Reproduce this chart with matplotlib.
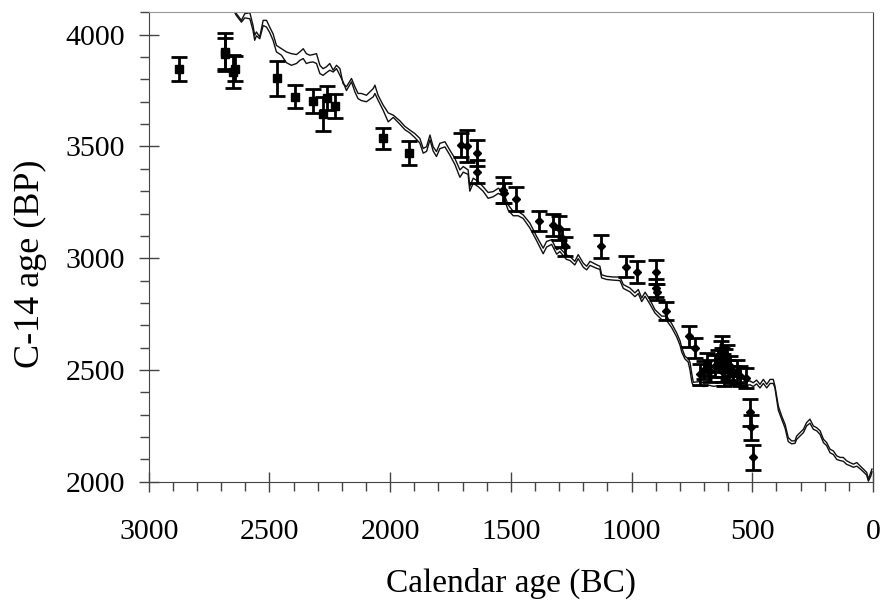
import matplotlib
matplotlib.use("Agg")
import matplotlib.pyplot as plt
from matplotlib.ticker import MultipleLocator

plt.rcParams['font.family'] = ['Liberation Serif', 'DejaVu Serif']

# calibration curve, upper and lower bound (cal BC, C-14 BP)
cal_year = [2650, 2637, 2616, 2602, 2581, 2568, 2561, 2554, 2540, 2526, 2512, 2499,
            2485, 2471, 2450, 2430, 2409, 2388, 2374, 2360, 2347, 2333, 2319, 2305,
            2291, 2278, 2264, 2250, 2236, 2222, 2208, 2195, 2181, 2160, 2146, 2133,
            2119, 2098, 2070, 2063, 2050, 2029, 2008, 1987, 1960, 1939, 1918, 1898,
            1877, 1863, 1849, 1835, 1822, 1808, 1794, 1773, 1753, 1732, 1711, 1697,
            1677, 1670, 1656, 1635, 1615, 1594, 1573, 1552, 1532, 1511, 1490, 1470,
            1449, 1421, 1393, 1366, 1352, 1331, 1310, 1297, 1270, 1255, 1235, 1221,
            1200, 1186, 1172, 1145, 1131, 1124, 1103, 1076, 1048, 1034, 1007, 986,
            972, 958, 944, 924, 903, 875, 855, 834, 813, 799, 792, 779, 765, 758,
            750, 744, 720, 700, 680, 660, 640, 620, 600, 580, 560, 540, 520, 509,
            496, 482, 468, 454, 440, 426, 413, 406, 399, 392, 378, 364, 351, 337,
            323, 316, 302, 288, 275, 261, 247, 233, 219, 205, 192, 178, 164, 150,
            136, 123, 109, 95, 81, 67, 53, 40, 26, 19, 9, 4]
curve_upper = [4130, 4094, 4064, 4094, 4098, 4041, 3997, 4012, 3990, 4064, 4064, 4034,
               4004, 3952, 3937, 3923, 3915, 3911, 3923, 3937, 3915, 3908, 3911, 3915,
               3863, 3848, 3856, 3871, 3841, 3863, 3848, 3781, 3767, 3804, 3767, 3737,
               3737, 3729, 3759, 3774, 3729, 3685, 3650, 3640, 3615, 3590, 3573, 3558,
               3536, 3491, 3499, 3551, 3499, 3477, 3514, 3521, 3484, 3447, 3395, 3410,
               3395, 3320, 3358, 3343, 3320, 3294, 3298, 3313, 3298, 3239, 3209, 3209,
               3194, 3157, 3097, 3045, 3075, 3083, 3038, 3045, 3015, 3008, 2986, 3016,
               2978, 2964, 2986, 2971, 2964, 2926, 2919, 2916, 2916, 2882, 2867, 2845,
               2860, 2822, 2848, 2815, 2770, 2741, 2741, 2708, 2666, 2630, 2600, 2562,
               2550, 2535, 2480, 2445, 2448, 2443, 2450, 2445, 2448, 2445, 2446, 2448,
               2444, 2447, 2450, 2451, 2443, 2455, 2436, 2458, 2436, 2458, 2458, 2428,
               2384, 2339, 2294, 2257, 2198, 2183, 2183, 2205, 2220, 2235, 2265, 2280,
               2250, 2242, 2228, 2190, 2176, 2146, 2138, 2116, 2109, 2109, 2094, 2086,
               2079, 2086, 2071, 2057, 2042, 2012, 2042, 2057]
curve_lower = [4110, 4086, 4056, 4075, 4071, 4019, 3975, 3995, 3982, 4041, 4034, 4010,
               3975, 3923, 3908, 3875, 3863, 3871, 3885, 3893, 3871, 3876, 3878, 3871,
               3826, 3818, 3830, 3841, 3833, 3848, 3818, 3789, 3750, 3789, 3744, 3714,
               3705, 3700, 3722, 3737, 3707, 3662, 3610, 3630, 3600, 3575, 3560, 3540,
               3515, 3470, 3478, 3530, 3480, 3455, 3490, 3498, 3462, 3420, 3362, 3385,
               3375, 3300, 3335, 3320, 3300, 3268, 3275, 3290, 3278, 3215, 3190, 3190,
               3178, 3135, 3078, 3020, 3050, 3062, 3018, 3030, 2995, 2990, 2970, 2998,
               2960, 2948, 2968, 2955, 2950, 2912, 2905, 2902, 2900, 2865, 2850, 2828,
               2842, 2806, 2830, 2795, 2755, 2725, 2722, 2690, 2648, 2610, 2580, 2550,
               2535, 2500, 2445, 2428, 2430, 2426, 2432, 2427, 2430, 2428, 2428, 2430,
               2427, 2430, 2432, 2434, 2426, 2438, 2420, 2440, 2420, 2440, 2440, 2420,
               2370, 2320, 2280, 2240, 2180, 2170, 2172, 2190, 2205, 2220, 2250, 2262,
               2235, 2228, 2212, 2175, 2162, 2130, 2122, 2100, 2095, 2092, 2078, 2072,
               2065, 2070, 2058, 2045, 2030, 2003, 2025, 2045]

# dated samples, first group (squares)
sq_year = [2876, 2686, 2684, 2652, 2644, 2468, 2394, 2320, 2278, 2262, 2228, 2029, 1921]
sq_bp = [3848, 3922, 3915, 3835, 3848, 3804, 3723, 3703, 3645, 3715, 3679, 3536, 3472]
sq_err = [54, 85, 70, 72, 55, 77, 52, 53, 74, 54, 54, 48, 53]

# second group (diamonds)
di_year = [1707, 1681, 1640, 1640, 1534, 1530, 1477, 1384, 1324, 1300, 1290, 1276,
           1127, 1023, 976, 900, 900, 896, 859, 760, 737, 717, 700, 689, 675, 654,
           640, 630, 627, 625, 622, 620, 617, 612, 606, 600, 592, 580, 565, 551, 524,
           509, 505, 498]
di_bp = [3506, 3502, 3472, 3387, 3306, 3292, 3265, 3167, 3149, 3135, 3090, 3053,
         3053, 2963, 2937, 2938, 2867, 2850, 2763, 2651, 2599, 2480, 2500, 2525, 2495,
         2517, 2540, 2575, 2600, 2555, 2520, 2490, 2470, 2545, 2562, 2500, 2517, 2480,
         2495, 2473, 2466, 2310, 2243, 2109]
di_err = [54, 73, 58, 52, 57, 45, 54, 45, 50, 52, 40, 42, 51, 48, 50, 54, 40, 35,
          41, 47, 45, 45, 40, 52, 50, 48, 50, 55, 50, 45, 50, 45, 40, 50, 50, 45, 45,
          40, 52, 45, 45, 61, 58, 56]

fig, ax = plt.subplots(figsize=(8.8, 6), dpi=100)
fig.subplots_adjust(left=0.169, right=0.992, top=0.9795, bottom=0.197)

ax.plot(cal_year, curve_upper, color='#111111', linewidth=1.0)
ax.plot(cal_year, curve_lower, color='#111111', linewidth=1.0)

ax.errorbar(sq_year, sq_bp, yerr=sq_err, fmt='s', color='black', markersize=5.5,
            elinewidth=2, capsize=5.5, capthick=2)
ax.errorbar(di_year, di_bp, yerr=di_err, fmt='D', color='black', markersize=4.5,
            elinewidth=2, capsize=5.5, capthick=2)

ax.set_xlim(3000, 0)
ax.set_ylim(2000, 4100)
ax.xaxis.set_major_locator(MultipleLocator(500))
ax.xaxis.set_minor_locator(MultipleLocator(100))
ax.yaxis.set_major_locator(MultipleLocator(500))
ax.yaxis.set_minor_locator(MultipleLocator(100))

ax.tick_params(which='major', direction='inout', length=14, width=1, color='#444444',
               labelsize=21.5)
ax.tick_params(which='minor', direction='out', length=6.5, width=1, color='#444444')
ax.tick_params(axis='x', which='major', pad=20)
ax.tick_params(axis='y', which='major', pad=10)

for side in ['left', 'bottom', 'right']:
    ax.spines[side].set_color('#444444')
ax.spines['top'].set_color('#999999')

ax.set_xlabel('Calendar age (BC)', fontsize=24)
ax.set_ylabel('C-14 age (BP)', fontsize=26)
ax.xaxis.set_label_coords(0.5, -0.183)
ax.yaxis.set_label_coords(-0.14, 0.465)

fig.savefig('out.png', dpi=100)
